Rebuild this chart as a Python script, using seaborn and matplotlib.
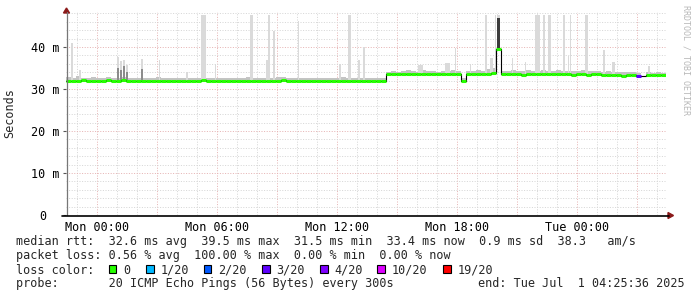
import numpy as np
import pandas as pd
import matplotlib
matplotlib.use("Agg")
import matplotlib.pyplot as plt
import seaborn as sns
from matplotlib.patches import Rectangle, Polygon
from matplotlib.lines import Line2D
from matplotlib.transforms import ScaledTranslation

# ---------------- data ----------------
start_h = -1.573          # Sun 22:25:36 expressed in hours from Mon 00:00
end_h = 28.427            # Tue 04:25:36
step_h = 0.25             # 15 minute slots

median_ms = [
    32.0, 31.9, 32.0, 32.1, 31.9, 32.0, 31.9, 32.0, 32.1, 32.0,
    32.0, 32.2, 31.9, 32.0, 31.9, 32.0, 32.0, 31.9, 32.0, 31.9,
    32.0, 31.9, 31.9, 32.0, 32.0, 31.9, 32.0, 32.1, 31.9, 32.0,
    31.9, 32.0, 32.0, 31.9, 31.8, 31.9, 32.0, 31.9, 31.9, 32.0,
    32.0, 31.9, 32.0, 32.1, 31.9, 32.0, 31.9, 32.0, 32.0, 31.9,
    31.9, 32.0, 31.9, 31.8, 31.9, 32.0, 31.9, 31.8, 31.9, 31.9,
    32.0, 31.8, 31.9, 31.9,
    33.6, 33.5, 33.5, 33.6, 33.5, 33.5, 33.6, 33.5, 33.5, 33.6,
    33.5, 33.5, 33.6, 33.5, 33.5,
    31.9,
    33.5, 33.6, 33.5, 33.5, 33.6,
    33.9, 39.5,
    33.5, 33.6, 33.5, 33.5, 33.4, 33.5, 33.5, 33.6, 33.5, 33.5,
    33.5, 33.6, 33.5, 33.5, 33.4, 33.5, 33.5, 33.4, 33.5, 33.5,
    33.4, 33.4, 33.3, 33.3, 33.2, 33.3, 33.3,
    33.2, np.nan, 33.4, 33.4, 33.4, 33.4,
]

smoke_top_ms = [
    32.8, 32.6, 33.0, 32.7, 32.6, 32.9, 32.6, 32.7, 32.8, 32.6,
    32.7, 32.9, 32.6, 32.7, 32.6, 32.6, 32.7, 32.6, 32.8, 32.6,
    32.6, 32.7, 32.6, 32.6, 32.7, 32.6, 32.7, 32.9, 32.6, 32.6,
    32.6, 32.7, 32.6, 32.6, 32.5, 32.7, 32.8, 32.6, 32.6, 32.7,
    32.7, 32.6, 32.8, 32.9, 32.6, 32.7, 32.6, 32.7, 32.6, 32.6,
    32.6, 32.7, 32.6, 32.6, 32.6, 32.8, 32.6, 32.5, 32.6, 32.6,
    32.7, 32.5, 32.6, 32.6,
    34.1, 34.2, 34.0, 34.3, 34.5, 34.2, 34.1, 34.6, 34.3, 34.2,
    34.1, 34.4, 34.2, 34.6, 34.3,
    32.6,
    34.2, 34.4, 34.6, 34.3, 34.8,
    35.0, 39.5,
    34.3, 34.2, 34.5, 34.2, 34.3, 34.6, 34.2, 34.4, 34.5, 34.2,
    34.3, 34.6, 34.2, 34.3, 34.2, 34.4, 34.5, 34.2, 34.3, 34.2,
    34.1, 34.2, 34.0, 34.1, 34.0, 34.1, 34.0,
    33.9, np.nan, 34.0, 33.9, 34.0, 33.9,
]

# lost pings out of 20 for the slots that had loss (all others: 0)
loss_slots = [114, 115]
loss_counts = [3, 20]

spike_hours = [-1.28, -0.87, 1.02, 1.18, 1.33, 1.48, 2.22, 3.12, 4.47, 5.30,
               5.88, 7.69, 8.47, 8.57, 8.82, 10.05, 12.13, 12.59, 13.07, 13.32,
               16.15, 17.50, 17.88, 18.63, 19.43, 19.69, 19.89, 20.06, 20.74, 21.38,
               22.00, 22.32, 22.60, 23.32, 23.53, 23.65, 24.45, 25.32, 25.79, 27.58]
spike_minutes = [5, 5, 5, 5, 5, 5, 5, 3, 5, 15,
                 3, 8, 5, 7, 7, 5, 5, 10, 7, 7,
                 15, 15, 3, 3, 6, 8, 4, 8, 4, 3,
                 15, 7, 9, 7, 3, 3, 9, 7, 10, 6]
spike_top_ms = [40.9, 34.5, 37.5, 36.7, 37.0, 35.7, 37.1, 36.9, 34.1, 47.6,
                35.9, 47.6, 36.9, 47.6, 43.9, 46.2, 35.9, 47.6, 36.9, 40.1,
                35.7, 36.3, 39.7, 36.0, 47.6, 37.3, 47.6, 47.6, 37.3, 36.4,
                47.6, 47.6, 47.6, 47.6, 37.9, 47.6, 47.6, 39.3, 36.4, 35.4]
spike_dark_ms = [0, 0, 35.0, 34.5, 35.5, 34.0, 34.8, 0, 0, 0,
                 0, 0, 0, 0, 0, 0, 0, 0, 0, 0,
                 0, 0, 0, 0, 0, 0, 0, 47.0, 0, 0,
                 0, 0, 0, 0, 0, 0, 0, 0, 0, 0]

tick_hours = [0, 6, 12, 18, 24]
tick_labels = ["Mon 00:00", "Mon 06:00", "Mon 12:00", "Mon 18:00", "Tue 00:00"]
ytick_vals = [0, 10, 20, 30, 40]
ytick_labels = ["0", "10 m", "20 m", "30 m", "40 m"]

loss_labels = ["0", "1/20", "2/20", "3/20", "4/20", "10/20", "19/20"]
loss_colors = ["#26ff00", "#00b8ff", "#0059ff", "#5e00ff", "#7e00ff", "#dd00ff", "#ff0000"]
loss_levels = [0, 1, 2, 3, 4, 10, 19]

stats_lines = [
    "median rtt:  32.6 ms avg  39.5 ms max  31.5 ms min  33.4 ms now  0.9 ms sd  38.3   am/s",
    "packet loss: 0.56 % avg  100.00 % max  0.00 % min  0.00 % now",
    "loss color:",
    "probe:       20 ICMP Echo Pings (56 Bytes) every 300s",
]
end_text = "end: Tue Jul  1 04:25:36 2025"

# ---------------- figure ----------------
sns.set_theme(style="white")
plt.rcParams["font.family"] = ["DejaVu Sans Mono"]
FS = 8.5
W, H = 697, 297

fig = plt.figure(figsize=(W / 100, H / 100), dpi=100)
fig.patch.set_facecolor("white")
ax = fig.add_axes([66 / W, (H - 215) / H, 600 / W, 203 / H])
ax.set_facecolor("white")
ymax = 203 / 4.2
ax.set_xlim(start_h, end_h)
ax.set_ylim(0, ymax)

# grid
grid_kw = dict(lw=0.72, linestyle=(0, (1, 1.6)), zorder=0)
for h in range(-1, 29):
    col = "#e6b4b4" if h % 3 == 0 else "#d6d6d6"
    ax.axvline(h, color=col, **grid_kw)
for v in range(2, 49, 2):
    col = "#e6b4b4" if v % 10 == 0 else "#d6d6d6"
    ax.axhline(v, color=col, **grid_kw)

n = len(median_ms)
t = start_h + step_h * np.arange(n)
med = np.array(median_ms, dtype=float)
top = np.array(smoke_top_ms, dtype=float)
df = pd.DataFrame({"t": t, "median": med, "smoke": top})

# base smoke
ok = ~np.isnan(med)
ax.bar(df.t[ok], (df.smoke - df["median"])[ok], bottom=df["median"][ok], width=step_h,
       align="edge", color="#c4c4c4", linewidth=0, zorder=2)

# spikes of smoke
for sh, sm, st, sd in zip(spike_hours, spike_minutes, spike_top_ms, spike_dark_ms):
    idx = int((sh - start_h) // step_h)
    base = med[idx] if not np.isnan(med[idx]) else 33.0
    w = sm / 60.0
    ax.bar(sh, st - base, bottom=base, width=w, color="#dadada", linewidth=0, zorder=2)
    if sd:
        dcol = "#3c3c3c" if sd > 45 else "#8c8c8c"
        ax.bar(sh, sd - base, bottom=base, width=w, color=dcol, linewidth=0, zorder=3)

# median black step line
line_t = np.append(t, t[-1] + step_h)
line_m = np.append(med, med[-1])
sns.lineplot(x=line_t, y=line_m, drawstyle="steps-post", color="black", lw=0.8,
             ax=ax, zorder=4, estimator=None, sort=False)

# loss-coloured median segments
loss_arr = np.zeros(n, dtype=int)
for s, c in zip(loss_slots, loss_counts):
    loss_arr[s] = c

def loss_color(c):
    col = loss_colors[0]
    for lvl, lc in zip(loss_levels, loss_colors):
        if c >= lvl:
            col = lc
    return col

for i in range(n):
    if np.isnan(med[i]):
        continue
    ax.hlines(med[i], t[i], t[i] + step_h, color=loss_color(loss_arr[i]), lw=2.2, zorder=5)

# axes / ticks
for s in ax.spines.values():
    s.set_visible(False)
ax.set_xticks(tick_hours)
ax.set_xticklabels(tick_labels, fontsize=FS, color="#000000")
ax.set_yticks(ytick_vals)
ax.set_yticklabels(ytick_labels, fontsize=FS, color="#000000")
ax.tick_params(axis="x", length=0, pad=4.0)
ax.tick_params(axis="y", length=2.5, width=0.8, color="#555555", pad=2.2, left=True)
ax.grid(False)
lab0 = ax.get_yticklabels()[0]
lab0.set_transform(lab0.get_transform() + ScaledTranslation(-0.13, 0, fig.dpi_scale_trans))

def fx(px):
    return px / W

def fy(py):
    return 1 - py / H

# axis lines and arrows
fig.add_artist(Line2D([fx(66.5), fx(66.5)], [fy(215), fy(12)], color="#777777", lw=0.9))
fig.add_artist(Line2D([fx(62), fx(669)], [fy(215.5), fy(215.5)], color="black", lw=1.2))
arrow_col = "#8b1a1a"
fig.add_artist(Polygon([[fx(673.5), fy(215.5)], [fx(668), fy(212.5)], [fx(668), fy(218.5)]],
                       closed=True, color=arrow_col, transform=fig.transFigure))
fig.add_artist(Polygon([[fx(66.5), fy(8)], [fx(63.5), fy(13)], [fx(69.5), fy(13)]],
                       closed=True, color=arrow_col, transform=fig.transFigure))

# y label and watermark
fig.text(fx(10), fy(113), "Seconds", rotation=90, ha="center", va="center", fontsize=FS)
fig.text(fx(686), fy(60), "RRDTOOL / TOBI OETIKER", rotation=270, ha="center", va="center",
         fontsize=6.0, color="#b8b8b8")

# legend / stats text
baselines = [245.5, 259.5, 273.5, 287.0]
for txt, yb in zip(stats_lines, baselines):
    fig.text(fx(16), fy(yb), txt, ha="left", va="baseline", fontsize=FS)
fig.text(fx(478), fy(baselines[3]), end_text, ha="left", va="baseline", fontsize=FS)

sq_x = [108.7, 146.0, 203.5, 262.0, 320.0, 377.3, 443.0]
for px, lbl, col in zip(sq_x, loss_labels, loss_colors):
    fig.add_artist(Rectangle((fx(px), fy(272.5)), 7.5 / W, 8 / H, facecolor=col,
                             edgecolor="black", lw=0.8, transform=fig.transFigure))
    fig.text(fx(px + 14.5), fy(baselines[2]), lbl, ha="left", va="baseline", fontsize=FS)

fig.savefig("out.png", dpi=100, facecolor="white")
